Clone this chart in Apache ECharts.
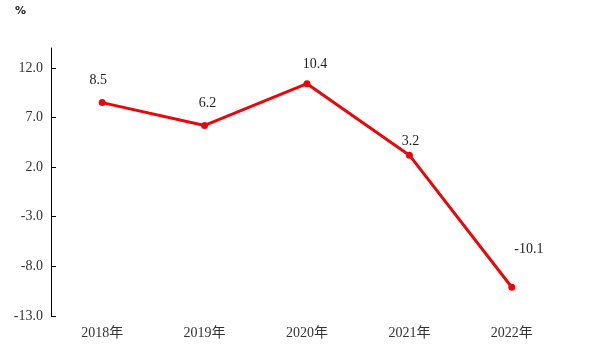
<!DOCTYPE html>
<html>
    <head>
        <meta charset="UTF-8">
        <title>增长率折线图</title>
        <script type="text/javascript" src="https://cdn.jsdelivr.net/npm/echarts@6/dist/echarts.min.js"></script>
    </head>
    <body style="margin: 0; background: #fff;">
        <div id="container" style="width: 590px; height: 353px;"></div>
    </body>
    <script type="text/javascript">
        var categories = ['2018年', '2019年', '2020年', '2021年', '2022年'];
        var values = [8.5, 6.2, 10.4, 3.2, -10.1];
        var yTicks = [-13, -8, -3, 2, 7, 12];
        // 每个数据标签的微调位置
        var labelOffsets = [[-4, -7], [3, -7], [8, -4], [1, 2], [17, -22]];

        var fontFamily = 'SimSun, "Liberation Serif", "Noto Sans CJK SC", serif';
        var dom = document.getElementById('container');
        var myChart = echarts.init(dom, null, { renderer: 'canvas' });

        var seriesData = values.map(function (v, i) {
            return {
                value: v,
                label: { offset: labelOffsets[i] }
            };
        });

        var option = {
            animation: false,
            textStyle: { fontFamily: fontFamily },
            graphic: [{
                type: 'text',
                left: 15,
                top: 6,
                style: {
                    text: '%',
                    font: 'bold 11px "DejaVu Sans", sans-serif',
                    fill: '#222'
                }
            }],
            grid: {
                left: 51,
                right: 27,
                top: 48,
                bottom: 37
            },
            xAxis: {
                type: 'category',
                data: categories,
                boundaryGap: true,
                axisLine: { show: false },
                axisTick: { show: false },
                axisLabel: {
                    margin: 10,
                    fontSize: 14,
                    color: '#333',
                    fontFamily: fontFamily
                }
            },
            yAxis: {
                type: 'value',
                min: -13,
                max: 14,
                splitLine: { show: false },
                axisLine: {
                    show: true,
                    lineStyle: { color: '#000', width: 1 }
                },
                axisTick: {
                    show: true,
                    inside: true,
                    length: 5,
                    customValues: yTicks,
                    lineStyle: { color: '#000' }
                },
                axisLabel: {
                    margin: 8,
                    fontSize: 14,
                    color: '#333',
                    fontFamily: fontFamily,
                    customValues: yTicks,
                    formatter: function (v) { return v.toFixed(1); }
                }
            },
            series: [{
                type: 'line',
                data: seriesData,
                symbol: 'circle',
                symbolSize: 7,
                itemStyle: { color: '#e8080c' },
                lineStyle: { color: '#e8080c', width: 3 },
                label: {
                    show: true,
                    position: 'top',
                    fontSize: 14,
                    color: '#222',
                    fontFamily: fontFamily,
                    formatter: function (p) { return p.value.toFixed(1); }
                }
            }]
        };

        myChart.setOption(option);
    </script>
</html>
